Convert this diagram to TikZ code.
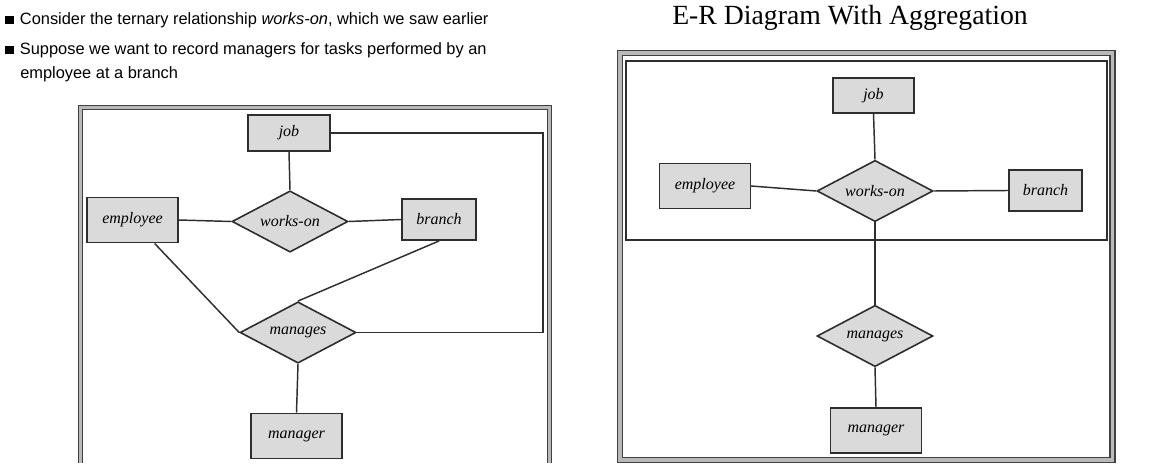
\documentclass[tikz,border=0pt]{standalone}
\usepackage{fontspec}
\usepackage{tikz}
\usetikzlibrary{shapes.geometric}
\newfontfamily\slidefont{Liberation Sans}
\newfontfamily\titlefont{Liberation Serif}
\definecolor{erfill}{HTML}{DADADA}
\definecolor{erline}{HTML}{2E2E2E}
\newcommand{\bulletsq}{\rule[0.5pt]{6.5pt}{6.5pt}\hspace{4.5pt}}

\begin{document}
\begin{tikzpicture}[
    x=0.75pt, y=-0.75pt,
    entity/.style={rectangle, draw=erline, fill=erfill, line width=1.2pt, minimum width=68pt, minimum height=34pt, inner sep=2pt, font=\titlefont\fontsize{12}{14}\selectfont\itshape},
    relship/.style={diamond, aspect=1.87, draw=erline, fill=erfill, line width=1.2pt, minimum width=87pt, minimum height=46pt, inner sep=0pt, font=\titlefont\fontsize{12}{14}\selectfont\itshape},
    link/.style={draw=erline, line width=1.1pt},
    frame/.style={draw=black!75, line width=0.9pt, double=gray!55, double distance=2.4pt},
    slidetext/.style={anchor=base west, inner sep=0pt, font=\slidefont\fontsize{12.3}{18}\selectfont}
]
\useasboundingbox (0,0) rectangle (1174,470);

% slide text
\node[slidetext] (line1) at (5,25) {\bulletsq Consider the ternary relationship \textit{works-on}, which we saw earlier};
\node[slidetext] (line2) at (5,55) {\bulletsq Suppose we want to record managers for tasks performed by an};
\node[slidetext] (line3) at (20,79) {employee at a branch};
\node[anchor=base west, inner sep=0pt, font=\titlefont\fontsize{20.8}{24}\selectfont] (title) at (672,25) {E-R Diagram With Aggregation};

% left: ternary relationship plus manages
\draw[frame] (80.5,463) |- (549.5,107.5) -- (549.5,463);
\node[entity, minimum width=61.5pt, minimum height=27pt] (job) at (289,133) {job};
\node[entity] (employee) at (132.5,220) {employee};
\node[relship] (workson) at (290,221.5) {works-on};
\node[entity, minimum width=55.5pt, minimum height=31pt] (branch) at (439,219.5) {branch};
\node[relship] (manages) at (298,332.5) {manages};
\node[entity] (manager) at (296.5,436) {manager};
\coordinate (jobloop) at (543,133);

\draw[link] (job.south) -- (workson.north);
\draw[link] (employee.east) -- (workson.west);
\draw[link] (workson.east) -- (branch.west);
\draw[link] ([xshift=-18pt]employee.south east) -- (manages.west);
\draw[link] (branch.south) -- (manages.north);
\draw[link] (job.east) -| (jobloop |- manages.east) -- (manages.east);
\draw[link] (manages.south) -- (manager.north);

% right: aggregation
\draw[frame, line width=1pt, double distance=2.8pt] (620,53) rectangle (1112.5,460);
\draw[draw=erline, line width=0.8pt] (626,61) rectangle (1107,240);
\node[entity, minimum width=61pt, minimum height=26pt] (job2) at (873.5,95.5) {job};
\node[entity] (employee2) at (705,186) {employee};
\node[relship] (workson2) at (875,191) {works-on};
\node[entity, minimum width=55pt, minimum height=31pt] (branch2) at (1045.5,190.5) {branch};
\node[relship] (manages2) at (875,336) {manages};
\node[entity] (manager2) at (876,430.5) {manager};

\draw[link] (job2.south) -- (workson2.north);
\draw[link] (employee2.east) -- (workson2.west);
\draw[link] (workson2.east) -- (branch2.west);
\draw[link] (workson2.south) -- (manages2.north);
\draw[link] (manages2.south) -- (manager2.north);
\end{tikzpicture}
\end{document}
